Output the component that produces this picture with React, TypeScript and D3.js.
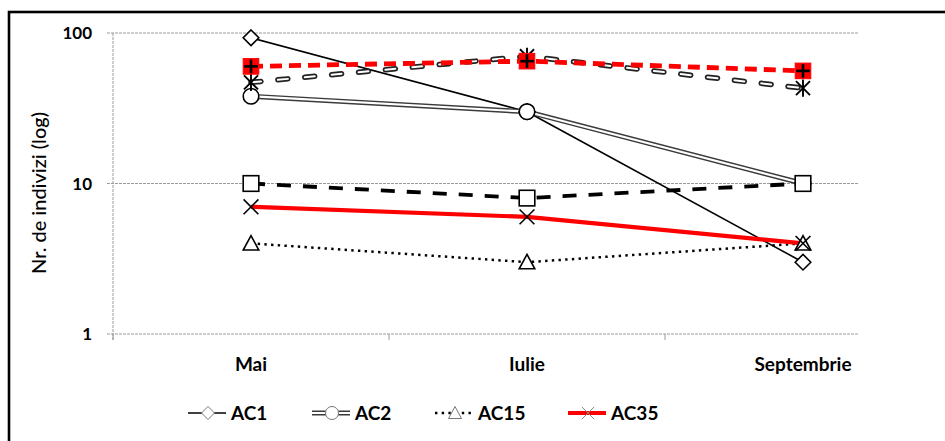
import React from 'react';
import * as d3 from 'd3';

// Sampling months (x categories)
const months = ['Mai', 'Iulie', 'Septembrie'];

// Number of individuals per sampling month, one array per station
const ac1 = [93, 30, 3];
const ac2 = [38, 30, 10];
const ac15 = [4, 3, 4];
const ac35 = [7, 6, 4];
const seriesSquare = [10, 8, 10];
const seriesStar = [47, 70, 43];
const seriesPlus = [60, 65, 56];

// Y axis ticks (log scale)
const yTicks = [1, 10, 100];

// Legend labels
const legendNames = ['AC1', 'AC2', 'AC15', 'AC35'];

const W = 945;
const H = 441;
const plotLeft = 113;
const plotRight = 859;
const plotTop = 33;
const plotBottom = 334;
const FONT = "Lato, 'Open Sans', 'DejaVu Sans', sans-serif";

type MarkerKind = 'diamond' | 'circle' | 'triangle' | 'x' | 'square' | 'star' | 'plus';

interface LineStyle {
  stroke: string;
  width: number;
  dash?: string;
  cap?: 'butt' | 'round' | 'square';
  double?: boolean;
  inner?: number;
}

interface Series {
  name: string;
  values: number[];
  line: LineStyle;
  marker: MarkerKind;
}

const series: Series[] = [
  { name: legendNames[0], values: ac1, line: { stroke: '#000', width: 1.6 }, marker: 'diamond' },
  { name: legendNames[1], values: ac2, line: { stroke: '#3a3a3a', width: 5, double: true, inner: 2.2 }, marker: 'circle' },
  { name: legendNames[2], values: ac15, line: { stroke: '#000', width: 2.5, dash: '2.4 4.3' }, marker: 'triangle' },
  { name: legendNames[3], values: ac35, line: { stroke: '#ff0000', width: 4.2 }, marker: 'x' },
  { name: 's5', values: seriesSquare, line: { stroke: '#000', width: 3.8, dash: '14 12' }, marker: 'square' },
  { name: 's6', values: seriesStar, line: { stroke: '#222', width: 5.5, dash: '10 17', cap: 'round', double: true, inner: 2 }, marker: 'star' },
  { name: 's7', values: seriesPlus, line: { stroke: '#ff0000', width: 4.8, dash: '12 7' }, marker: 'plus' },
];

function Marker({ kind, x, y, legend }: { kind: MarkerKind; x: number; y: number; legend?: boolean }) {
  const s = legend ? 6.5 : 7.8;
  const stroke = legend ? '#777' : '#000';
  const sw = legend ? 1 : 1.6;
  switch (kind) {
    case 'diamond':
      return <path d={`M${x},${y - s} L${x + s},${y} L${x},${y + s} L${x - s},${y} Z`} fill="#fff" stroke={stroke} strokeWidth={sw} />;
    case 'circle':
      return <circle cx={x} cy={y} r={s} fill="#fff" stroke={stroke} strokeWidth={sw} />;
    case 'triangle':
      return <path d={`M${x},${y - s} L${x + s},${y + s * 0.85} L${x - s},${y + s * 0.85} Z`} fill="#fff" stroke={stroke} strokeWidth={sw} />;
    case 'square':
      return <rect x={x - s} y={y - s} width={2 * s} height={2 * s} fill="#fff" stroke={stroke} strokeWidth={sw} />;
    case 'x': {
      const k = s * 0.95;
      return (
        <g stroke={legend ? '#888' : '#000'} strokeWidth={legend ? 1 : 1.6}>
          <line x1={x - k} y1={y - k} x2={x + k} y2={y + k} />
          <line x1={x - k} y1={y + k} x2={x + k} y2={y - k} />
        </g>
      );
    }
    case 'star': {
      const k = s * 0.9;
      return (
        <g stroke="#000" strokeWidth={1.9}>
          <line x1={x - k} y1={y - k} x2={x + k} y2={y + k} />
          <line x1={x - k} y1={y + k} x2={x + k} y2={y - k} />
          <line x1={x} y1={y - s * 1.1} x2={x} y2={y + s * 1.1} />
        </g>
      );
    }
    case 'plus':
      return (
        <g>
          <rect x={x - s} y={y - s} width={2 * s} height={2 * s} fill="#ff0000" stroke="#ff0000" strokeWidth={1} />
          <g stroke="#000" strokeWidth={2.6}>
            <line x1={x - s + 1} y1={y} x2={x + s - 1} y2={y} />
            <line x1={x} y1={y - s + 1} x2={x} y2={y + s - 1} />
          </g>
        </g>
      );
  }
  return null;
}

function StyledPath({ d, line }: { d: string; line: LineStyle }) {
  const cap = line.cap ?? 'butt';
  if (line.double) {
    return (
      <g fill="none">
        <path d={d} stroke={line.stroke} strokeWidth={line.width} strokeDasharray={line.dash} strokeLinecap={cap} strokeLinejoin="round" />
        <path d={d} stroke="#fff" strokeWidth={line.inner ?? 2} strokeDasharray={line.dash} strokeLinecap={cap} strokeLinejoin="round" />
      </g>
    );
  }
  return <path d={d} fill="none" stroke={line.stroke} strokeWidth={line.width} strokeDasharray={line.dash} strokeLinecap={cap} strokeLinejoin="round" />;
}

export default function App() {
  const x = d3.scaleBand<string>().domain(months).range([plotLeft, plotLeft + 828]).padding(0);
  const cx = (m: string) => (x(m) ?? 0) + x.bandwidth() / 2;
  const y = d3.scaleLog().domain([1, 100]).range([plotBottom, plotTop]);

  const lineGen = d3
    .line<number>()
    .x((_, i) => cx(months[i]))
    .y((v) => y(v));

  const boundaries = months.map((m) => x(m) ?? 0);

  const legendY = 413;
  const legendX = [188, 312, 435, 568];

  return (
    <svg width={W} height={H} style={{ position: 'absolute', left: 0, top: 0, display: 'block', background: '#fff' }}>
      <rect x={0} y={0} width={W} height={H} fill="#fff" />
      {/* outer frame */}
      <rect x={9} y={12} width={W + 20} height={H + 20} fill="none" stroke="#000" strokeWidth={2.6} />

      {/* horizontal gridlines */}
      {yTicks.map((t) => (
        <line key={t} x1={plotLeft - 6} x2={plotRight} y1={y(t)} y2={y(t)} stroke="#9a9a9a" strokeWidth={1} strokeDasharray="3 1" />
      ))}
      {/* y axis */}
      <line x1={plotLeft} x2={plotLeft} y1={plotTop} y2={plotBottom + 6} stroke="#9a9a9a" strokeWidth={1} strokeDasharray="3 1" />
      {/* x tick marks at category boundaries */}
      {boundaries.map((b, i) => (
        <line key={i} x1={b} x2={b} y1={plotBottom} y2={plotBottom + 6} stroke="#9a9a9a" strokeWidth={1} />
      ))}

      {/* y tick labels */}
      {yTicks.map((t) => (
        <text key={t} x={92} y={y(t)} dy="0.36em" textAnchor="end" fontFamily={FONT} fontWeight="bold" fontSize={17} fill="#000">
          {d3.format('d')(t)}
        </text>
      ))}

      {/* y axis title */}
      <text transform="translate(46,193) rotate(-90)" textAnchor="middle" fontFamily={FONT} fontWeight={500} fontSize={20} fill="#000">
        Nr. de indivizi (log)
      </text>

      {/* x category labels */}
      {months.map((m) => (
        <text key={m} x={cx(m)} y={371} textAnchor="middle" fontFamily={FONT} fontWeight="bold" fontSize={19} fill="#000">
          {m}
        </text>
      ))}

      {/* series lines */}
      {series.map((s) => (
        <StyledPath key={s.name} d={lineGen(s.values) ?? ''} line={s.line} />
      ))}
      {/* series markers */}
      {series.map((s) => (
        <g key={s.name + '-m'}>
          {s.values.map((v, i) => (
            <Marker key={i} kind={s.marker} x={cx(months[i])} y={y(v)} />
          ))}
        </g>
      ))}

      {/* legend */}
      {series.slice(0, 4).map((s, i) => {
        const lx = legendX[i];
        const d = `M${lx},${legendY} L${lx + 38},${legendY}`;
        return (
          <g key={s.name + '-leg'}>
            <StyledPath d={d} line={s.line} />
            <Marker kind={s.marker} x={lx + 20} y={legendY} legend />
            <text x={lx + 43} y={legendY + 7} fontFamily={FONT} fontWeight="bold" fontSize={19} fill="#000">
              {s.name}
            </text>
          </g>
        );
      })}
    </svg>
  );
}
